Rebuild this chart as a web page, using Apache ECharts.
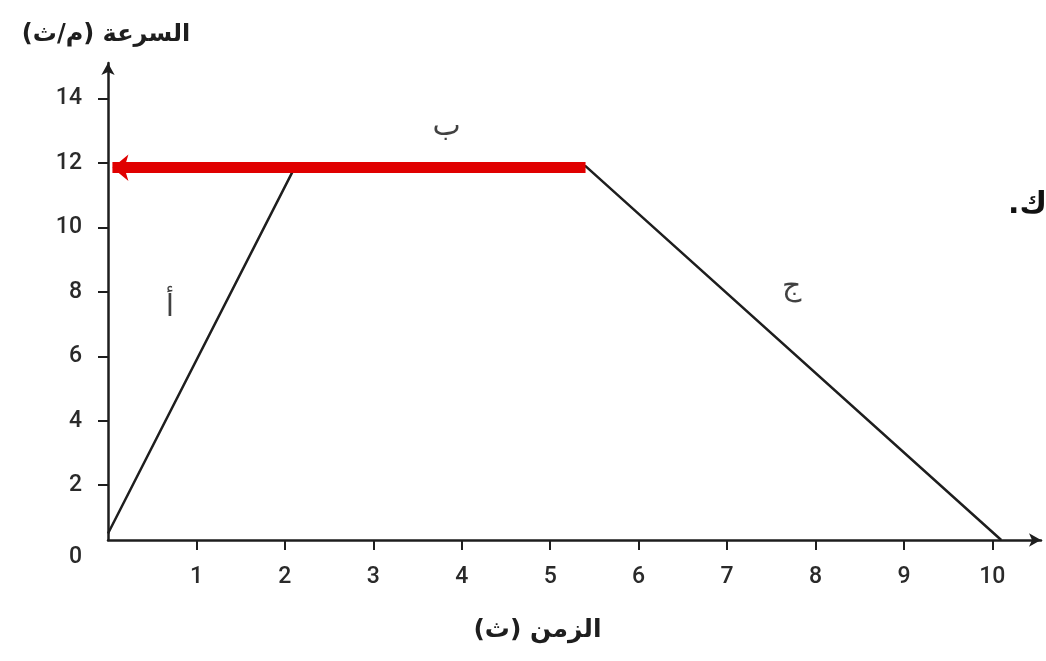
<!DOCTYPE html>
<html>
<head>
<meta charset="utf-8">
<script src="https://cdn.jsdelivr.net/npm/echarts@6/dist/echarts.min.js"></script>
<style>
html,body{margin:0;padding:0;background:#fff;}
#chart{width:1046px;height:661px;direction:rtl;}
</style>
</head>
<body>
<div id="chart"></div>
<script>
// ---- data ----
const timeValues = [0, 2.1, 5.4, 10.1];          // الزمن (ث)
const speedValues = [0.5, 11.8, 11.9, 0.3];      // السرعة (م/ث)
const arrowFrom = [5.4, 11.85];                   // red arrow start
const arrowTo = [0.05, 11.85];                    // red arrow tip
const xTickLabels = [1, 2, 3, 4, 5, 6, 7, 8, 9, 10];
const yTickLabels = [2, 4, 6, 8, 10, 12, 14];
const axisOrigin = [0, 0.3];                      // where axes cross (drawn slightly above 0)
const segmentNames = ['أ', 'ب', 'ج'];
const segmentX = [0.7, 3.83, 7.73];
const segmentY = [7.5, 13.1, 8.15];
const xName = 'الزمن (ث)';
const yName = 'السرعة (م/ث)';

const ink = '#1e1e1e';
const digitFont = 'Roboto';
const arFont = 'DejaVu Sans';
const labelColor = '#2a2a2a';

const chart = echarts.init(document.getElementById('chart'), null, {renderer: 'canvas'});

const linePts = timeValues.map((t, i) => [t, speedValues[i]]);
const segPts = segmentNames.map((n, i) => ({value: [segmentX[i], segmentY[i]], name: n}));

chart.setOption({
  animation: false,
  backgroundColor: '#ffffff',
  grid: {left: 108, right: 5, top: 63, bottom: 121, containLabel: false},
  xAxis: {
    type: 'value',
    min: axisOrigin[0],
    max: 10.55,
    interval: 1,
    name: xName,
    nameLocation: 'middle',
    nameGap: 78,
    nameTextStyle: {fontFamily: arFont, fontSize: 25, color: ink, fontWeight: 'bold', padding: [0, 74, 0, 0]},
    axisLine: {show: true, onZero: false, symbol: ['none', 'arrow'], symbolSize: [10, 12],
      lineStyle: {color: ink, width: 2.5}},
    axisTick: {show: true, length: 10, lineStyle: {color: ink, width: 2}, customValues: xTickLabels},
    axisLabel: {show: true, margin: 26, fontFamily: digitFont, fontWeight: 500, fontSize: 23, color: labelColor,
      customValues: xTickLabels},
    splitLine: {show: false}
  },
  yAxis: {
    type: 'value',
    min: axisOrigin[1],
    max: 15.1,
    name: yName,
    nameLocation: 'end',
    nameGap: 28,
    nameTextStyle: {fontFamily: arFont, fontSize: 24, color: ink, fontWeight: 'bold', align: 'center', verticalAlign: 'middle', padding: [0, 4, 0, 0]},
    axisLine: {show: true, onZero: false, symbol: ['none', 'arrow'], symbolSize: [10, 12],
      lineStyle: {color: ink, width: 2.5}},
    axisTick: {show: true, length: 10, lineStyle: {color: ink, width: 2}, customValues: yTickLabels},
    axisLabel: {show: true, margin: 26, fontFamily: digitFont, fontWeight: 500, fontSize: 23, color: labelColor,
      customValues: [axisOrigin[1]].concat(yTickLabels),
      formatter: function (v) { return v < 1 ? '{z|0}' : String(v); },
      rich: {z: {fontFamily: digitFont, fontWeight: 500, fontSize: 23, color: labelColor, padding: [34, 0, 0, 0]}}
    },
    splitLine: {show: false}
  },
  series: [
    {
      type: 'line',
      data: linePts,
      symbol: 'none',
      lineStyle: {color: ink, width: 2.5},
      z: 2,
      silent: true
    },
    {
      type: 'line',
      data: [],
      z: 3,
      silent: true,
      markLine: {
        silent: true,
        animation: false,
        symbol: ['none', 'arrow'],
        symbolSize: [20, 16],
        label: {show: false},
        lineStyle: {color: '#e00000', width: 11, type: 'solid', opacity: 1},
        emphasis: {disabled: true},
        data: [[{coord: arrowFrom}, {coord: arrowTo}]]
      }
    },
    {
      type: 'scatter',
      data: segPts,
      symbolSize: 0,
      silent: true,
      label: {show: true, position: 'inside', formatter: '{b}', fontFamily: arFont, fontSize: 30, color: '#111111'}
    }
  ],
  graphic: [
    {type: 'text', left: 1008, top: 190, silent: true,
      style: {text: 'ك.', font: 'bold 30px "DejaVu Sans"', fill: '#111'}}
  ]
});
</script>
</body>
</html>
